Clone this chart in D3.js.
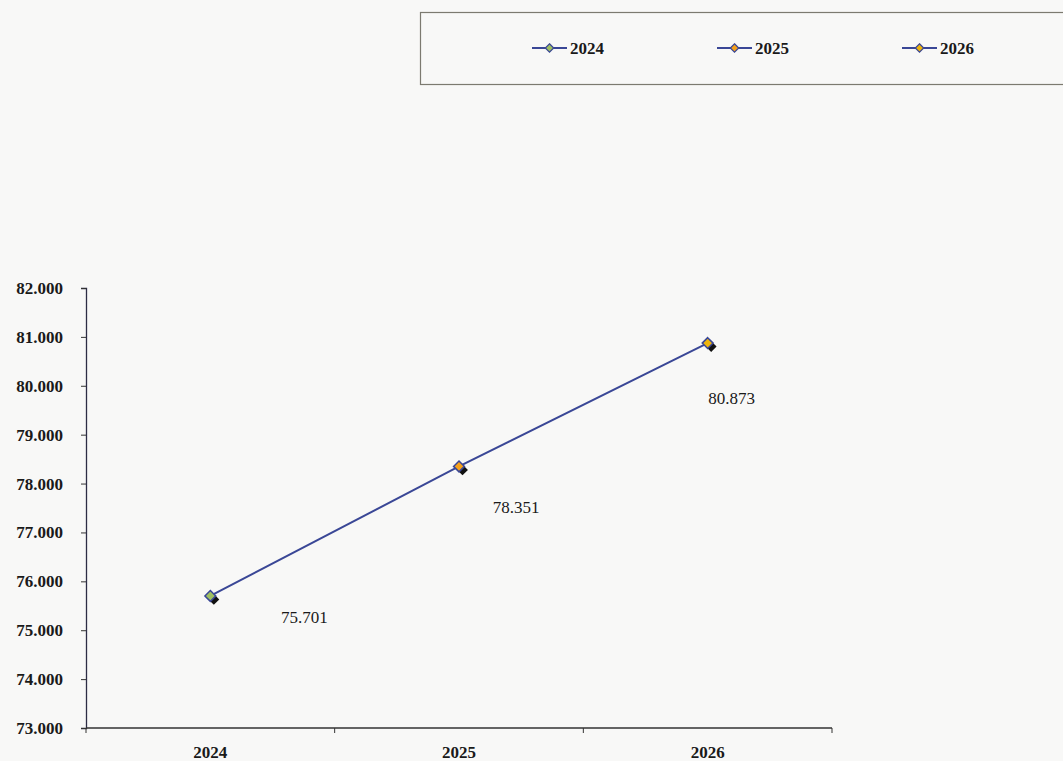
<!DOCTYPE html>
<html>
<head>
<meta charset="utf-8">
<script src="https://cdn.jsdelivr.net/npm/d3@7"></script>
<style>
  html, body { margin: 0; padding: 0; background: #f8f8f7; }
  svg { display: block; }
  text { font-family: "Liberation Serif", "DejaVu Serif", serif; fill: #1a1a1a; }
</style>
</head>
<body>
<svg id="chart" width="1063" height="761"></svg>
<script>
// Values per year
const categories = ["2024", "2025", "2026"];
const values = [75701, 78351, 80873];
const markerFills = ["#9fbf62", "#f5a11c", "#eeb40c"];
const yTicks = [73000, 74000, 75000, 76000, 77000, 78000, 79000, 80000, 81000, 82000];

// Manual placement of the value labels relative to each point
const labelOffsets = [[94, 21], [57, 41], [24, 55]];

const svg = d3.select("#chart");
const W = 1063, H = 761;
svg.append("rect").attr("width", W).attr("height", H).attr("fill", "#f8f8f7");

const plot = { left: 86, right: 832, top: 288, bottom: 728 };

const locale = d3.formatLocale({ decimal: ",", thousands: ".", grouping: [3], currency: ["", ""] });
const fmt = locale.format(",d");

const x = d3.scaleBand().domain(categories).range([plot.left, plot.right]).padding(0);
const y = d3.scaleLinear().domain([73000, 82000]).range([plot.bottom, plot.top]);

// Y axis
const yAxis = svg.append("g")
  .attr("transform", `translate(${plot.left},0)`)
  .call(d3.axisLeft(y).tickValues(yTicks).tickFormat(fmt).tickSize(5).tickPadding(18));
yAxis.select(".domain").attr("stroke", "#2c2c44").attr("stroke-width", 1.3);
yAxis.selectAll(".tick line").attr("stroke", "#333").attr("stroke-width", 1);
yAxis.selectAll(".tick text")
  .attr("font-size", 17).attr("font-weight", "bold")
  .attr("font-family", "Liberation Serif, serif").attr("fill", "#1a1a1a");

// X axis: baseline with ticks at category boundaries
const xg = svg.append("g").attr("transform", `translate(0,${plot.bottom})`);
xg.append("line")
  .attr("x1", plot.left).attr("x2", plot.right)
  .attr("stroke", "#333").attr("stroke-width", 1.3);
const boundaries = categories.map(c => x(c)).concat([x(categories[categories.length - 1]) + x.bandwidth()]);
xg.selectAll("line.bt").data(boundaries).enter().append("line")
  .attr("class", "bt")
  .attr("x1", d => d).attr("x2", d => d)
  .attr("y1", 0).attr("y2", 5)
  .attr("stroke", "#333").attr("stroke-width", 1);
xg.selectAll("text.cat").data(categories).enter().append("text")
  .attr("class", "cat")
  .attr("x", d => x(d) + x.bandwidth() / 2)
  .attr("y", 30)
  .attr("text-anchor", "middle")
  .attr("font-size", 17).attr("font-weight", "bold")
  .text(d => d);

// Line
const pts = categories.map((c, i) => ({ cat: c, v: values[i], fill: markerFills[i], off: labelOffsets[i] }));
const line = d3.line().x(d => x(d.cat) + x.bandwidth() / 2).y(d => y(d.v));
svg.append("path")
  .datum(pts)
  .attr("d", line)
  .attr("fill", "none")
  .attr("stroke", "#3a4796")
  .attr("stroke-width", 2);

// Markers with drop shadow
const diamond = d3.symbol().type(d3.symbolDiamond2).size(75);
const mk = svg.selectAll("g.mk").data(pts).enter().append("g")
  .attr("class", "mk")
  .attr("transform", d => `translate(${x(d.cat) + x.bandwidth() / 2},${y(d.v)})`);
mk.append("path")
  .attr("d", diamond)
  .attr("transform", "translate(3.5,3.5)")
  .attr("fill", "#111");
mk.append("path")
  .attr("d", diamond)
  .attr("fill", d => d.fill)
  .attr("stroke", "#3a4796")
  .attr("stroke-width", 1.5);

// Value labels
svg.selectAll("text.val").data(pts).enter().append("text")
  .attr("class", "val")
  .attr("x", d => x(d.cat) + x.bandwidth() / 2 + d.off[0])
  .attr("y", d => y(d.v) + d.off[1])
  .attr("dy", "0.35em")
  .attr("text-anchor", "middle")
  .attr("font-size", 17)
  .text(d => fmt(d.v));

// Legend
const legend = svg.append("g");
legend.append("rect")
  .attr("x", 420.5).attr("y", 12.5)
  .attr("width", 680).attr("height", 72)
  .attr("fill", "none")
  .attr("stroke", "#7c7a70").attr("stroke-width", 1.2);
const legendX = [532, 717, 902];
const li = legend.selectAll("g.li").data(pts).enter().append("g")
  .attr("class", "li")
  .attr("transform", (d, i) => `translate(${legendX[i]},48)`);
li.append("line")
  .attr("x1", 0).attr("x2", 35)
  .attr("stroke", "#3a4796").attr("stroke-width", 2);
li.append("path")
  .attr("d", d3.symbol().type(d3.symbolDiamond2).size(45))
  .attr("transform", "translate(17.5,0)")
  .attr("fill", d => d.fill)
  .attr("stroke", "#3a4796").attr("stroke-width", 1.2);
li.append("text")
  .attr("x", 38).attr("y", 0).attr("dy", "0.35em")
  .attr("font-size", 17).attr("font-weight", "bold")
  .text(d => d.cat);
</script>
</body>
</html>
